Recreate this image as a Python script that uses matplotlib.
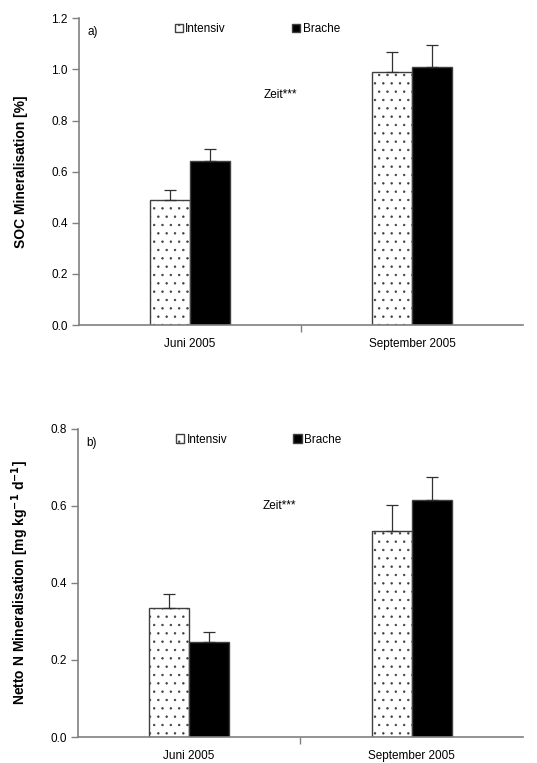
import matplotlib
matplotlib.use("Agg")
import matplotlib.pyplot as plt
import numpy as np

plt.rcParams['font.family'] = ['Liberation Sans', 'DejaVu Sans']
plt.rcParams['hatch.linewidth'] = 0.5

months = ['Juni 2005', 'September 2005']
series = ['Intensiv', 'Brache']

soc_intensiv = [0.49, 0.99]
soc_intensiv_err = [0.04, 0.08]
soc_brache = [0.64, 1.01]
soc_brache_err = [0.05, 0.085]

n_intensiv = [0.334, 0.536]
n_intensiv_err = [0.037, 0.066]
n_brache = [0.247, 0.616]
n_brache_err = [0.026, 0.059]

fig = plt.figure(figsize=(5.37, 7.63), dpi=100)
ax1 = fig.add_axes([0.147, 0.574, 0.827, 0.402])
ax2 = fig.add_axes([0.145, 0.034, 0.829, 0.404])

x = np.arange(len(months))
w = 0.18
grey = '#808080'


def panel(ax, a, a_err, b, b_err, ymax, yticks, ylabel, tag, leg_x, lpad):
    ax.bar(x - w / 2, a, w, color='white', edgecolor='#404040', hatch='..',
           linewidth=1.0, label=series[0], zorder=2)
    ax.bar(x + w / 2, b, w, color='black', edgecolor='#404040',
           linewidth=1.0, label=series[1], zorder=2)
    ax.errorbar(x - w / 2, a, yerr=[np.zeros(2), a_err], fmt='none',
                ecolor='#303030', elinewidth=0.9, capsize=4, capthick=0.9, zorder=3)
    ax.errorbar(x + w / 2, b, yerr=[np.zeros(2), b_err], fmt='none',
                ecolor='#303030', elinewidth=0.9, capsize=4, capthick=0.9, zorder=3)
    ax.set_xlim(-0.5, 1.5)
    ax.set_ylim(0, ymax)
    ax.set_yticks(yticks)
    ax.set_yticklabels(['%.1f' % t for t in yticks])
    ax.set_xticks(x)
    ax.set_xticklabels(months)
    ax.set_xticks([0.5], minor=True)
    ax.tick_params(axis='x', which='major', length=0, pad=9, labelsize=8.5)
    ax.tick_params(axis='x', which='minor', length=5, color=grey, width=1)
    ax.tick_params(axis='y', length=5, color=grey, width=1, labelsize=8.5, pad=3)
    for s in ['top', 'right']:
        ax.spines[s].set_visible(False)
    for s in ['left', 'bottom']:
        ax.spines[s].set_color(grey)
        ax.spines[s].set_linewidth(1.2)
    ax.set_ylabel(ylabel, fontsize=10, fontweight='bold', labelpad=lpad)
    ax.text(0.02, 0.955, tag, transform=ax.transAxes, fontsize=8.5, va='center')
    ax.text(0.415, 0.75, 'Zeit***', transform=ax.transAxes, fontsize=8.5, va='center')
    ax.legend(loc='center left', bbox_to_anchor=(leg_x, 0.965), ncol=2, frameon=False,
              handlelength=0.7, handleheight=0.7, handletextpad=0.2,
              columnspacing=5.6, fontsize=8.5, borderaxespad=0)


panel(ax1, soc_intensiv, soc_intensiv_err, soc_brache, soc_brache_err,
      1.2, np.arange(0, 1.21, 0.2), 'SOC Mineralisation [%]', 'a)', 0.205, 17)
panel(ax2, n_intensiv, n_intensiv_err, n_brache, n_brache_err,
      0.8, np.arange(0, 0.81, 0.2),
      r'Netto N Mineralisation [mg kg$^{\mathbf{-1}}$ d$^{\mathbf{-1}}$]', 'b)', 0.21, 14)

fig.savefig('out.png', dpi=100)
